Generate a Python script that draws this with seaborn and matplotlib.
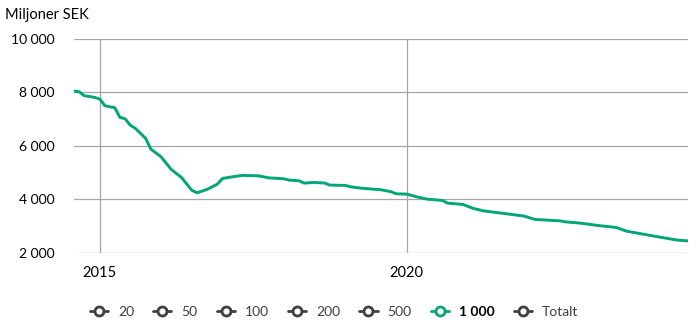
import matplotlib
matplotlib.use("Agg")
import matplotlib.pyplot as plt
import matplotlib.dates as mdates
from matplotlib.lines import Line2D
from matplotlib.ticker import FuncFormatter
import seaborn as sns
import pandas as pd

months = ["2014-08", "2014-09", "2014-10", "2014-12", "2015-01", "2015-02", "2015-04", "2015-05",
          "2015-06", "2015-07", "2015-08", "2015-10", "2015-11", "2016-01", "2016-03", "2016-05",
          "2016-07", "2016-08", "2016-10", "2016-12", "2017-01", "2017-03", "2017-05", "2017-08",
          "2017-10", "2018-01", "2018-02", "2018-04", "2018-05", "2018-07", "2018-09", "2018-10",
          "2019-01", "2019-02", "2019-04", "2019-08", "2019-10", "2019-11", "2020-01", "2020-03",
          "2020-05", "2020-08", "2020-09", "2020-12", "2021-02", "2021-04", "2021-08", "2021-12",
          "2022-02", "2022-07", "2022-08", "2022-11", "2023-03", "2023-06", "2023-08", "2023-12",
          "2024-04", "2024-06", "2024-08"]
values_1000 = [8050, 8024, 7874, 7814, 7750, 7499, 7424, 7064,
               7011, 6775, 6651, 6276, 5875, 5586, 5114, 4814,
               4338, 4236, 4364, 4563, 4776, 4836, 4889, 4874,
               4799, 4761, 4713, 4686, 4600, 4626, 4600, 4525,
               4514, 4461, 4413, 4351, 4276, 4199, 4188, 4086,
               4000, 3951, 3850, 3801, 3651, 3561, 3464, 3363,
               3239, 3186, 3149, 3100, 2999, 2939, 2800, 2661,
               2526, 2463, 2436]
legend_labels = ["20", "50", "100", "200", "500", "1 000", "Totalt"]
highlight = "1 000"
y_ticks = [2000, 4000, 6000, 8000, 10000]
x_tick_years = [2015, 2020]

GREEN = "#00a676"
GRAY = "#404040"
GRID = "#a6a6a6"

sns.set_style("white")
plt.rcParams["font.family"] = ["Lato", "DejaVu Sans"]

df = pd.DataFrame({"date": pd.to_datetime(months), "value": values_1000})

fig = plt.figure(figsize=(6.98, 3.30), dpi=100)
ax = fig.add_axes([74 / 698, 1 - 252.5 / 330, (688 - 74) / 698, (252.5 - 39) / 330])

sns.lineplot(data=df, x="date", y="value", ax=ax, color=GREEN, linewidth=2.1)

ax.set_xlim(df["date"].iloc[0], df["date"].iloc[-1])
ax.set_ylim(y_ticks[0], y_ticks[-1])
ax.set_yticks(y_ticks)
ax.yaxis.set_major_formatter(FuncFormatter(lambda v, p: f"{int(v):,}".replace(",", " ")))
ax.set_xticks([pd.Timestamp(f"{y}-01-01") for y in x_tick_years])
ax.xaxis.set_major_formatter(mdates.DateFormatter("%Y"))
ax.set_xlabel("")
ax.set_ylabel("")

ax.grid(True, color=GRID, linewidth=0.9)
ax.set_axisbelow(True)
for s in ax.spines.values():
    s.set_visible(False)
ax.tick_params(axis="both", length=0, labelsize=10, colors="black")
ax.tick_params(axis="y", pad=14)
ax.tick_params(axis="x", pad=10)
for lbl in ax.get_xticklabels():
    lbl.set_fontsize(10.5)

fig.text(5 / 698, 1 - 15 / 330, "Miljoner SEK", fontsize=10.5, ha="left", va="center", color="black")

handles = []
for lab in legend_labels:
    c = GREEN if lab == highlight else GRAY
    handles.append(Line2D([0], [0], color=c, linewidth=2, marker="o", markersize=6.5,
                          markerfacecolor="white", markeredgecolor=c, markeredgewidth=2))
leg = fig.legend(handles, legend_labels, loc="center", bbox_to_anchor=(334 / 698, 1 - 312 / 330),
                 ncol=len(legend_labels), frameon=False, fontsize=10, handlelength=1.3,
                 handletextpad=0.7, columnspacing=1.4)
for t in leg.get_texts():
    if t.get_text() == highlight:
        t.set_color("black")
        t.set_fontweight("bold")
    else:
        t.set_color(GRAY)

fig.savefig("out.png", dpi=100)
